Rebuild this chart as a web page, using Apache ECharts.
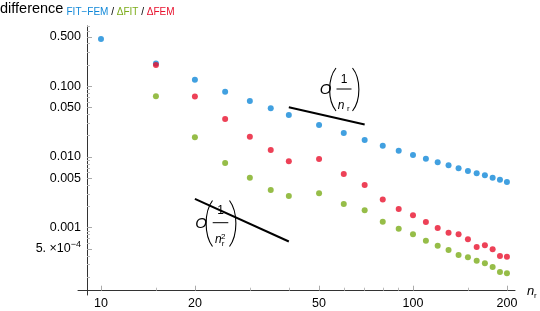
<!DOCTYPE html>
<html>
<head>
<meta charset="utf-8">
<script src="https://cdn.jsdelivr.net/npm/echarts@6/dist/echarts.min.js"></script>
<style>
html, body { margin: 0; padding: 0; background: #fff; }
#main { width: 540px; height: 311px; }
</style>
</head>
<body>
<div id="main"></div>
<script>
// n_r values
const nFitFem = [10, 15, 20, 25, 30, 35, 40, 50, 60, 70, 80, 90, 100, 110, 120, 130, 140, 150, 160, 170, 180, 190, 200];
const nDelta = [15, 20, 25, 30, 35, 40, 50, 60, 70, 80, 90, 100, 110, 120, 130, 140, 150, 160, 170, 180, 190, 200];

// differences
const fitFem = [0.467, 0.211, 0.124, 0.084, 0.062, 0.0489, 0.0393, 0.0284, 0.0218, 0.0174, 0.01445, 0.01228, 0.0107,
  0.00946, 0.00841, 0.00764, 0.00692, 0.00634, 0.00588, 0.00551, 0.00509, 0.00478, 0.00443];
const deltaFit = [0.0722, 0.019, 0.00822, 0.00509, 0.00341, 0.00281, 0.00307, 0.00216, 0.00176, 0.001216, 0.00097,
  0.000807, 0.000655, 0.000556, 0.000484, 0.000411, 0.000381, 0.000341, 0.000313, 0.000278, 0.000236, 0.000226];
const deltaFem = [0.2, 0.0718, 0.0346, 0.0194, 0.01256, 0.00869, 0.00937, 0.00575, 0.00402, 0.0025, 0.00184, 0.0015,
  0.001205, 0.00099, 0.00085, 0.000807, 0.000686, 0.000533, 0.000563, 0.000494, 0.000398, 0.000389];

// reference slopes O(1/n) and O(1/n^2)
const slope1 = [[40, 0.0505], [70, 0.0289]];
const slope2 = [[20, 0.00255], [40, 0.000638]];

// ticks
const xMajor = [10, 20, 50, 100, 200];
const xMinor = [15, 30, 40, 60, 70, 80, 90, 150];
const yMajor = [0.5, 0.1, 0.05, 0.01, 0.005, 0.001, 0.0005];
const yTickLabels = ['0.500', '0.100', '0.050', '0.010', '0.005', '0.001', '{m|5. \u00d710}{s|\u22124}'];
const yMinor = [0.0002, 0.0003, 0.0004, 0.0006, 0.0007, 0.0008, 0.0009,
  0.002, 0.003, 0.004, 0.006, 0.007, 0.008, 0.009,
  0.02, 0.03, 0.04, 0.06, 0.07, 0.08, 0.09,
  0.2, 0.3, 0.4, 0.6, 0.7];

const FONT = '"Liberation Sans", Arial, sans-serif';
const BLUE = '#1188d8', GREEN = '#7cac1a', RED = '#e8112d';

const xMin = 8.44, xMax = 212.3, yMin = 1.117e-4, yMax = 0.713;

const zip = (xs, ys) => xs.map((x, i) => [x, ys[i]]);
const sameVal = (a, b) => Math.abs(Math.log10(a) - Math.log10(b)) < 1e-6;

const myChart = echarts.init(document.getElementById('main'));

const baseX = {
  type: 'log', logBase: 10, min: xMin, max: xMax, position: 'bottom', offset: -4.3,
  splitLine: { show: false }, minorTick: { show: false }, minorSplitLine: { show: false }
};
const baseY = {
  type: 'log', logBase: 10, min: yMin, max: yMax, position: 'left', offset: -9,
  splitLine: { show: false }, minorTick: { show: false }, minorSplitLine: { show: false }
};

const scatter = (name, data, color) => ({
  name, type: 'scatter', xAxisIndex: 0, yAxisIndex: 0,
  data, symbolSize: 6, itemStyle: { color }, z: 3
});
const guide = (data) => ({
  type: 'line', xAxisIndex: 0, yAxisIndex: 0, data,
  showSymbol: false, symbol: 'none', lineStyle: { color: '#000', width: 2 }, z: 4, silent: true
});
const paren = (x1, y1, x2, y2, bulge) => ({
  type: 'bezierCurve',
  shape: { x1, y1, x2, y2, cpx1: x1 + bulge, cpy1: y1 + (y2 - y1) * 0.25, cpx2: x2 + bulge, cpy2: y1 + (y2 - y1) * 0.75 },
  style: { stroke: '#000', fill: null, lineWidth: 1.1 }
});
const txt = (x, y, text, font, align) => ({
  type: 'text', x, y,
  style: { text, font: font + ' ' + FONT, fill: '#000', align: align || 'center', verticalAlign: 'middle' }
});

const option = {
  animation: false,
  backgroundColor: '#fff',
  grid: { left: 78, right: 25, top: 26, bottom: 16, containLabel: false, outerBoundsMode: 'none' },
  xAxis: [
    Object.assign({}, baseX, {
      axisLine: { show: true, lineStyle: { color: '#333', width: 1 } },
      axisTick: { show: true, inside: true, length: 5, customValues: xMajor, lineStyle: { color: '#aaa' } },
      axisLabel: { customValues: xMajor, color: '#000', fontSize: 12.5, fontFamily: FONT, margin: 6 }
    }),
    Object.assign({}, baseX, {
      axisLine: { show: false },
      axisTick: { show: true, inside: true, length: 3, customValues: xMinor, lineStyle: { color: '#bbb' } },
      axisLabel: { show: false }
    })
  ],
  yAxis: [
    Object.assign({}, baseY, {
      axisLine: { show: true, lineStyle: { color: '#333', width: 1 } },
      axisTick: { show: true, inside: true, length: 5, customValues: yMajor, lineStyle: { color: '#aaa' } },
      axisLabel: {
        customValues: yMajor, color: '#000', fontSize: 12.5, fontFamily: FONT, margin: 6,
        formatter: (v) => {
          const i = yMajor.findIndex((t) => sameVal(t, v));
          return i >= 0 ? yTickLabels[i] : '';
        },
        rich: {
          m: { fontSize: 12.5, fontFamily: FONT, color: '#000' },
          s: { fontSize: 9, fontFamily: FONT, color: '#000', padding: [0, 0, 8, 0] }
        }
      }
    }),
    Object.assign({}, baseY, {
      axisLine: { show: false },
      axisTick: { show: true, inside: true, length: 3, customValues: yMinor, lineStyle: { color: '#bbb' } },
      axisLabel: { show: false }
    })
  ],
  series: [
    scatter('FIT-FEM', zip(nFitFem, fitFem), BLUE),
    scatter('\u0394FEM', zip(nDelta, deltaFem), RED),
    scatter('\u0394FIT', zip(nDelta, deltaFit), GREEN),
    guide(slope1),
    guide(slope2)
  ],
  graphic: [
    // plot label
    txt(0, 8.5, 'difference', '14.5px', 'left'),
    {
      type: 'text', x: 66.5, y: 11.8,
      style: {
        text: '{b|FIT\u2212FEM}{k| / }{g|\u0394FIT}{k| / }{r|\u0394FEM}',
        verticalAlign: 'middle', font: '10px ' + FONT,
        rich: {
          b: { fill: BLUE, font: '10px ' + FONT },
          k: { fill: '#000', font: '10px ' + FONT },
          g: { fill: GREEN, font: '10px ' + FONT },
          r: { fill: RED, font: '10px ' + FONT }
        }
      }
    },
    // axis name n_r
    txt(527, 291.5, 'n', 'italic 13px', 'left'),
    txt(534, 296, 'r', '8px', 'left'),

    // O(1/n_r)
    txt(325.5, 89.5, 'O', 'italic 15px'),
    paren(336, 68, 336, 111, -8.5),
    paren(352.5, 68, 352.5, 111, 8.5),
    txt(344, 79.8, '1', '12px'),
    { type: 'line', shape: { x1: 336.5, y1: 89, x2: 351.5, y2: 89 }, style: { stroke: '#000', lineWidth: 1 } },
    txt(341, 105.6, 'n', 'italic 12px'),
    txt(348.3, 108.6, 'r', '8px'),

    // O(1/n_r^2)
    txt(201, 223.7, 'O', 'italic 15px'),
    paren(212.5, 200.5, 212.5, 246.5, -8.5),
    paren(229.5, 200.5, 229.5, 246.5, 8.5),
    txt(220.5, 210.8, '1', '12px'),
    { type: 'line', shape: { x1: 212.7, y1: 222.7, x2: 228.3, y2: 222.7 }, style: { stroke: '#000', lineWidth: 1 } },
    txt(218.3, 239.2, 'n', 'italic 12px'),
    txt(223.2, 237, '2', '8px'),
    txt(223, 244.2, 'r', '8px')
  ]
};

option && myChart.setOption(option);
</script>
</body>
</html>
